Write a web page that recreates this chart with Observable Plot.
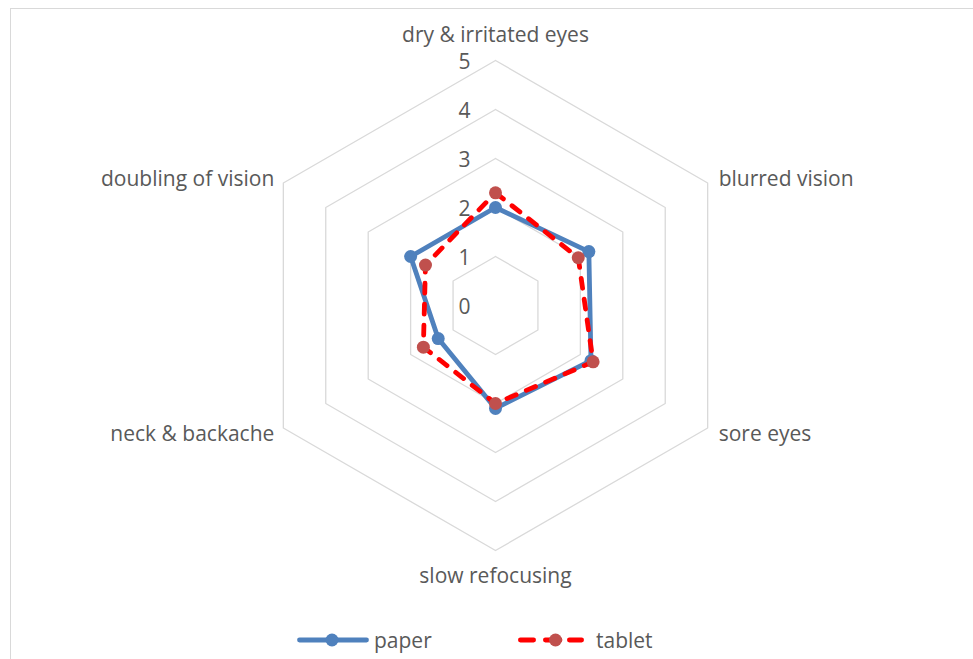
<!DOCTYPE html>
<html>
<head>
<meta charset="utf-8">
<script src="https://cdn.jsdelivr.net/npm/d3@7"></script>
<script src="https://cdn.jsdelivr.net/npm/@observablehq/plot@0.6"></script>
<style>
  html, body { margin: 0; padding: 0; background: #fff; }
  body { width: 973px; height: 659px; position: relative; overflow: hidden; font-family: "Open Sans", Lato, sans-serif; }
  #frame { position: absolute; left: 10px; top: 8px; width: 975px; height: 670px; border: 1px solid #d9d9d9; box-sizing: border-box; pointer-events: none; }
  #chart { position: absolute; left: 0; top: 0; }
  #legend { position: absolute; left: 0; top: 620px; width: 973px; height: 39px; }
  .item { position: absolute; top: 0; height: 39px; display: flex; align-items: center; font-size: 21px; color: #595959; }
  .item svg { display: block; margin-right: 5px; }
</style>
</head>
<body>
<div id="chart"></div>
<div id="legend"></div>
<div id="frame"></div>
<script>
// ---- data ----
const categories = ["dry & irritated eyes", "blurred vision", "sore eyes", "slow refocusing", "neck & backache", "doubling of vision"];
const paper  = [2.0, 2.2, 2.25, 2.1, 1.35, 2.0];
const tablet = [2.3, 1.95, 2.3, 2.0, 1.7, 1.65];
const tickValues = [0, 1, 2, 3, 4, 5];
const seriesNames = ["paper", "tablet"];

// ---- layout ----
const W = 973, H = 620;
const cx = 495, cy = 305, k = 49; // center px, px per unit
const textColor = "#595959";
const gridColor = "#d9d9d9";
const paperColor = "#4F81BD";
const tabletLine = "#FF0000";
const tabletMarker = "#C0504D";
const dash = "10,11";

const n = categories.length;
const ang = i => i * 2 * Math.PI / n;
const pt = (v, i) => ({x: v * Math.sin(ang(i)), y: v * Math.cos(ang(i))});

const gridRings = tickValues.filter(t => t > 0);
const gridData = gridRings.flatMap(r => d3.range(n + 1).map(i => ({...pt(r, i % n), r})));

const seriesPts = vals => vals.map((v, i) => ({...pt(v, i), v, cat: categories[i]}));
const closed = arr => arr.concat([arr[0]]);
const paperPts = seriesPts(paper);
const tabletPts = seriesPts(tablet);

const maxR = d3.max(tickValues);
const labelPts = categories.map((c, i) => ({...pt(maxR, i), c, i}));
// label placement per angular position (top, upper-right, lower-right, bottom, lower-left, upper-left)
const labelStyle = [
  {textAnchor: "middle", dx: 0, dy: -25},
  {textAnchor: "start", dx: 11, dy: -4},
  {textAnchor: "start", dx: 11, dy: 6},
  {textAnchor: "middle", dx: 0, dy: 26},
  {textAnchor: "end", dx: -9, dy: 6},
  {textAnchor: "end", dx: -9, dy: -4}
];

const font = {fontSize: 21, fill: textColor, fontFamily: "'Open Sans', Lato, sans-serif"};

const marks = [
  Plot.line(gridData, {x: "x", y: "y", z: "r", stroke: gridColor, strokeWidth: 1.3}),
  Plot.text(tickValues, {x: () => 0, y: d => d, text: d => String(d), textAnchor: "end", dx: -25, dy: 2, ...font}),
  ...labelPts.map((d, i) => Plot.text([d], {x: "x", y: "y", text: "c", ...labelStyle[i], ...font})),
  Plot.line(closed(paperPts), {x: "x", y: "y", stroke: paperColor, strokeWidth: 4.8, strokeLinejoin: "round", strokeLinecap: "round"}),
  Plot.dot(paperPts, {x: "x", y: "y", r: 6.5, fill: paperColor, stroke: "none"}),
  Plot.line(closed(tabletPts), {x: "x", y: "y", stroke: tabletLine, strokeWidth: 4.8, strokeDasharray: dash, strokeLinecap: "round", strokeLinejoin: "round"}),
  Plot.dot(tabletPts, {x: "x", y: "y", r: 6.5, fill: tabletMarker, stroke: "none"})
];

const chart = Plot.plot({
  width: W, height: H, margin: 0,
  x: {type: "linear", domain: [-cx / k, (W - cx) / k], range: [0, W], axis: null},
  y: {type: "linear", domain: [-(H - cy) / k, cy / k], range: [H, 0], axis: null},
  style: {background: "transparent", overflow: "visible"},
  marks
});
document.getElementById("chart").appendChild(chart);

// ---- legend ----
const legend = document.getElementById("legend");
const legendLeft = [297, 518];
seriesNames.forEach((name, j) => {
  const item = document.createElement("div");
  item.className = "item";
  item.style.left = legendLeft[j] + "px";
  let sw;
  if (j === 0) {
    sw = `<svg width="72" height="16"><line x1="2.5" y1="8" x2="69.5" y2="8" stroke="${paperColor}" stroke-width="4.8" stroke-linecap="round"/><circle cx="35" cy="8" r="6.5" fill="${paperColor}"/></svg>`;
  } else {
    sw = `<svg width="68" height="16"><path d="M2.4,8H15.6M27.4,8H42M51.4,8H63.6" stroke="${tabletLine}" stroke-width="4.8" stroke-linecap="round" fill="none"/><circle cx="37.5" cy="8" r="6.5" fill="${tabletMarker}"/></svg>`;
  }
  item.innerHTML = sw + `<span>${name}</span>`;
  if (j === 1) item.querySelector("svg").style.marginRight = "10px";
  legend.appendChild(item);
});
</script>
</body>
</html>
